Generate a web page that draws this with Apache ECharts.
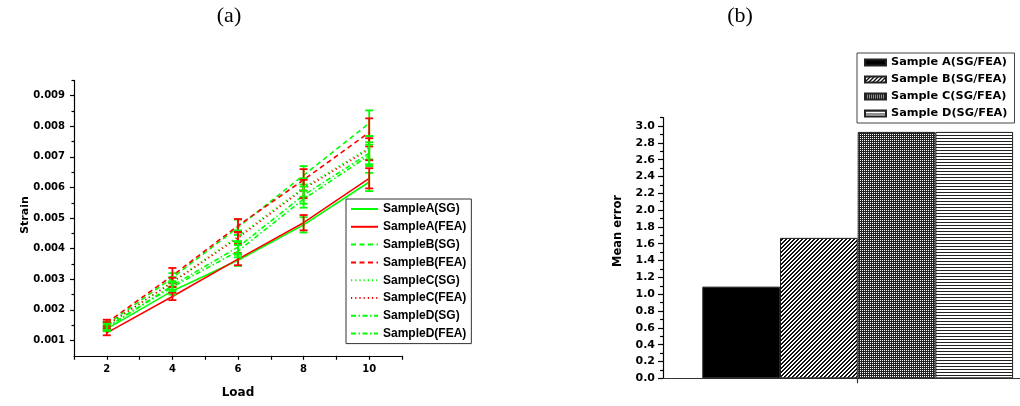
<!DOCTYPE html>
<html>
<head>
<meta charset="utf-8">
<script src="https://cdn.jsdelivr.net/npm/echarts@6/dist/echarts.min.js"></script>
<style>
  html, body { margin: 0; padding: 0; background: #fff; }
  #chart { width: 1020px; height: 406px; }
</style>
</head>
<body>
<div id="chart"></div>
<script>
// ---- (a) Strain vs load ----
const loads = [2, 4, 6, 8, 10];

const sampleA_SG  = [0.00138, 0.00262, 0.00362, 0.00478, 0.00618];
const sampleA_FEA = [0.00125, 0.00244, 0.00366, 0.00485, 0.00630];
const sampleB_SG  = [0.00152, 0.00305, 0.00470, 0.00640, 0.00810];
const sampleB_FEA = [0.00158, 0.00312, 0.00475, 0.00625, 0.00780];
const sampleC_SG  = [0.00148, 0.00292, 0.00440, 0.00600, 0.00730];
const sampleC_FEA = [0.00150, 0.00290, 0.00435, 0.00595, 0.00725];
const sampleD_SG  = [0.00142, 0.00280, 0.00405, 0.00575, 0.00712];
const sampleD_FEA = [0.00145, 0.00275, 0.00392, 0.00562, 0.00705];

// half-widths of the error bars
const errA_SG  = [0.00008, 0.00012, 0.00018, 0.00025, 0.00030];
const errA_FEA = [0.00008, 0.00012, 0.00020, 0.00025, 0.00033];
const errB_SG  = [0.00010, 0.00015, 0.00025, 0.00030, 0.00042];
const errB_FEA = [0.00010, 0.00025, 0.00022, 0.00035, 0.00046];
const errC_SG  = [0.00010, 0.00015, 0.00020, 0.00030, 0.00038];
const errC_FEA = [0.00010, 0.00015, 0.00020, 0.00030, 0.00036];
const errD_SG  = [0.00010, 0.00014, 0.00020, 0.00028, 0.00036];
const errD_FEA = [0.00010, 0.00014, 0.00020, 0.00028, 0.00035];

const strainTicks = [0.001, 0.002, 0.003, 0.004, 0.005, 0.006, 0.007, 0.008, 0.009];
const strainMinorTicks = [0.0015, 0.0025, 0.0035, 0.0045, 0.0055, 0.0065, 0.0075, 0.0085, 0.0095];

// ---- (b) Mean error ----
const sampleNames = ['Sample A(SG/FEA)', 'Sample B(SG/FEA)', 'Sample C(SG/FEA)', 'Sample D(SG/FEA)'];
const meanErrors = [1.09, 1.67, 2.93, 2.93];
const meanErrorTicks = [0, 0.2, 0.4, 0.6, 0.8, 1.0, 1.2, 1.4, 1.6, 1.8, 2.0, 2.2, 2.4, 2.6, 2.8, 3.0];
const meanErrorMinorTicks = [0.1, 0.3, 0.5, 0.7, 0.9, 1.1, 1.3, 1.5, 1.7, 1.9, 2.1, 2.3, 2.5, 2.7, 2.9, 3.1];

const GREEN = '#00ff00';
const RED = '#ff0000';
const FONT = 'DejaVu Sans';

const strainSeries = [
  { name: 'SampleA(SG)',  values: sampleA_SG,  errors: errA_SG,  color: GREEN, dash: 'solid' },
  { name: 'SampleA(FEA)', values: sampleA_FEA, errors: errA_FEA, color: RED,   dash: 'solid' },
  { name: 'SampleB(SG)',  values: sampleB_SG,  errors: errB_SG,  color: GREEN, dash: [5, 3.5] },
  { name: 'SampleB(FEA)', values: sampleB_FEA, errors: errB_FEA, color: RED,   dash: [5, 3.5] },
  { name: 'SampleC(SG)',  values: sampleC_SG,  errors: errC_SG,  color: GREEN, dash: [1.2, 3] },
  { name: 'SampleC(FEA)', values: sampleC_FEA, errors: errC_FEA, color: RED,   dash: [1.2, 3] },
  { name: 'SampleD(SG)',  values: sampleD_SG,  errors: errD_SG,  color: GREEN, dash: [5, 2.5, 1.5, 2.5] },
  { name: 'SampleD(FEA)', values: sampleD_FEA, errors: errD_FEA, color: GREEN, dash: [5, 2.5, 1.5, 2.5] }
];

// fill patterns for the bars
function makePattern(w, h, isInk, ink) {
  const c = document.createElement('canvas');
  c.width = w; c.height = h;
  const ctx = c.getContext('2d');
  ctx.fillStyle = '#fff';
  ctx.fillRect(0, 0, w, h);
  ctx.fillStyle = ink || '#000';
  for (let y = 0; y < h; y++) {
    for (let x = 0; x < w; x++) {
      if (isInk(x, y)) ctx.fillRect(x, y, 1, 1);
    }
  }
  return { image: c, repeat: 'repeat' };
}
const barFills = [
  '#000',
  // fine "////" hatch
  makePattern(4, 4, (x, y) => (x + y) % 4 < 2, '#111'),
  // dense dark checker with small white dots
  makePattern(4, 4, (x, y) => !(x % 2 === 0 && y % 2 === 0), '#222'),
  // horizontal rules
  makePattern(1, 3, (x, y) => y === 0, '#222')
];

function errorBarRenderer(color) {
  return function (params, api) {
    const x = api.value(0);
    const top = api.coord([x, api.value(2)]);
    const bot = api.coord([x, api.value(1)]);
    const hw = 4;
    const style = { stroke: color, lineWidth: 1.8 };
    return {
      type: 'group',
      children: [
        { type: 'line', shape: { x1: top[0], y1: top[1], x2: bot[0], y2: bot[1] }, style },
        { type: 'line', shape: { x1: top[0] - hw, y1: top[1], x2: top[0] + hw, y2: top[1] }, style },
        { type: 'line', shape: { x1: bot[0] - hw, y1: bot[1], x2: bot[0] + hw, y2: bot[1] }, style }
      ]
    };
  };
}

const series = [];
strainSeries.forEach(s => {
  series.push({
    name: s.name,
    type: 'line',
    xAxisIndex: 0, yAxisIndex: 0,
    symbol: 'none',
    data: loads.map((x, i) => [x, s.values[i]]),
    lineStyle: { color: s.color, width: 1.6, type: s.dash },
    itemStyle: { color: s.color },
    z: 2
  });
});
strainSeries.forEach(s => {
  series.push({
    name: s.name + ' error',
    type: 'custom',
    xAxisIndex: 0, yAxisIndex: 0,
    renderItem: errorBarRenderer(s.color),
    data: loads.map((x, i) => [x, s.values[i] - s.errors[i], s.values[i] + s.errors[i]]),
    encode: { x: 0, y: [1, 2] },
    z: 3
  });
});
sampleNames.forEach((name, i) => {
  series.push({
    name,
    type: 'bar',
    xAxisIndex: 1, yAxisIndex: 2,
    data: [meanErrors[i]],
    barWidth: 77.7,
    barGap: '0%',
    itemStyle: { color: barFills[i], borderColor: '#222', borderWidth: 1 }
  });
});

const tickLabel = { fontFamily: FONT, fontWeight: 'bold', color: '#000' };
const blackLine = { show: true, lineStyle: { color: '#000', width: 1.2 } };

const option = {
  animation: false,
  backgroundColor: '#fff',
  grid: [
    { left: 74, top: 80.4, width: 328, height: 275.4, outerBoundsMode: 'none', containLabel: false },
    { left: 663, top: 117.6, width: 389.4, height: 260.7, outerBoundsMode: 'none', containLabel: false }
  ],
  xAxis: [
    {
      type: 'value', gridIndex: 0, min: 1, max: 11, interval: 1,
      axisLine: blackLine,
      axisTick: { show: true, inside: false, length: 4, lineStyle: { color: '#000', width: 1.2 } },
      axisLabel: Object.assign({ fontSize: 10, margin: 9, formatter: v => (v % 2 === 0 ? String(v) : '') }, tickLabel),
      splitLine: { show: false }
    },
    {
      type: 'category', gridIndex: 1, data: [''],
      axisLine: { show: true, lineStyle: { color: '#333', width: 1.2 } },
      axisTick: { show: true, alignWithLabel: true, length: 5, lineStyle: { color: '#333', width: 1.2 } },
      axisLabel: { show: false },
      splitLine: { show: false }
    }
  ],
  yAxis: [
    {
      type: 'value', gridIndex: 0, min: 0.0005, max: 0.0095,
      axisLine: blackLine,
      axisTick: { show: true, length: 4, customValues: strainTicks, lineStyle: { color: '#000', width: 1.2 } },
      axisLabel: Object.assign({ fontSize: 10, margin: 9, customValues: strainTicks, formatter: v => v.toFixed(3) }, tickLabel),
      splitLine: { show: false }
    },
    {
      type: 'value', gridIndex: 0, position: 'left', min: 0.0005, max: 0.0095,
      axisLine: { show: false },
      axisTick: { show: true, length: 2.5, customValues: strainMinorTicks, lineStyle: { color: '#000', width: 1.2 } },
      axisLabel: { show: false },
      splitLine: { show: false }
    },
    {
      type: 'value', gridIndex: 1, min: 0, max: 3.1,
      axisLine: blackLine,
      axisTick: { show: true, length: 5, customValues: meanErrorTicks, lineStyle: { color: '#000', width: 1.2 } },
      axisLabel: Object.assign({ fontSize: 11, margin: 8, customValues: meanErrorTicks, formatter: v => v.toFixed(1) }, tickLabel),
      splitLine: { show: false }
    },
    {
      type: 'value', gridIndex: 1, position: 'left', min: 0, max: 3.1,
      axisLine: { show: false },
      axisTick: { show: true, length: 3, customValues: meanErrorMinorTicks, lineStyle: { color: '#000', width: 1.2 } },
      axisLabel: { show: false },
      splitLine: { show: false }
    }
  ],
  legend: [
    {
      data: strainSeries.map(s => s.name),
      orient: 'vertical',
      left: 346, top: 199,
      padding: [4, 5, 4, 4],
      itemWidth: 27, itemHeight: 12, itemGap: 5.8,
      itemStyle: { color: 'transparent', borderColor: 'transparent', borderWidth: 0 },
      backgroundColor: '#fff',
      borderColor: '#333', borderWidth: 1,
      textStyle: { fontFamily: 'Liberation Sans', fontWeight: 'bold', fontSize: 12, lineHeight: 12, color: '#000' }
    },
    {
      data: sampleNames,
      orient: 'vertical',
      left: 857, top: 53,
      padding: [3, 7, 3, 7],
      icon: 'rect',
      itemWidth: 21, itemHeight: 6, itemGap: 4,
      backgroundColor: '#fff',
      borderColor: '#444', borderWidth: 1,
      textStyle: { fontFamily: FONT, fontWeight: 'bold', fontSize: 11.3, lineHeight: 13, color: '#000' }
    }
  ],
  graphic: [
    { type: 'text', style: { text: '(a)', x: 229, y: 16, textAlign: 'center', textVerticalAlign: 'middle', font: '22px "Liberation Serif"', fill: '#000' } },
    { type: 'text', style: { text: '(b)', x: 740, y: 16, textAlign: 'center', textVerticalAlign: 'middle', font: '22px "Liberation Serif"', fill: '#000' } },
    { type: 'text', rotation: Math.PI / 2, x: 25, y: 215, style: { text: 'Strain', textAlign: 'center', textVerticalAlign: 'middle', font: 'bold 11px "DejaVu Sans"', fill: '#000' } },
    { type: 'text', style: { text: 'Load', x: 238, y: 393, textAlign: 'center', textVerticalAlign: 'middle', font: 'bold 12px "DejaVu Sans"', fill: '#000' } },
    { type: 'text', rotation: Math.PI / 2, x: 618, y: 231, style: { text: 'Mean error', textAlign: 'center', textVerticalAlign: 'middle', font: 'bold 11.5px "DejaVu Sans"', fill: '#000' } }
  ],
  series
};

const chart = echarts.init(document.getElementById('chart'), null, { renderer: 'canvas' });
chart.setOption(option);
</script>
</body>
</html>
